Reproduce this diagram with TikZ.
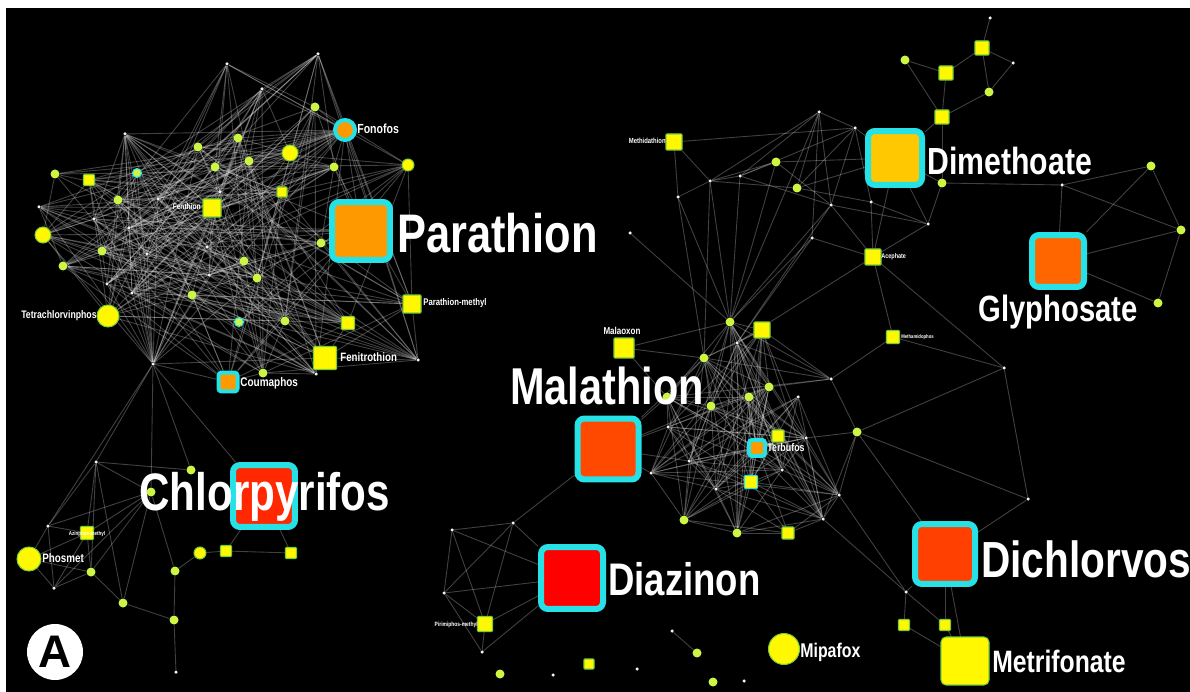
\documentclass[tikz,border=0pt]{standalone}
\usepackage{fontspec}
\newfontfamily\labfont{Liberation Sans}[FakeStretch=0.8]
\newfontfamily\panelfont{Liberation Sans}

\definecolor{hicyan}{RGB}{38,226,230}
\definecolor{dotgreen}{RGB}{205,245,70}
\definecolor{leafgreen}{RGB}{120,205,60}
\definecolor{nodeyellow}{RGB}{255,248,0}
\definecolor{paraorange}{RGB}{255,153,0}
\definecolor{dimegold}{RGB}{255,200,0}
\definecolor{glyporange}{RGB}{255,102,0}
\definecolor{malared}{RGB}{255,72,0}
\definecolor{chlored}{RGB}{255,40,0}
\definecolor{diazred}{RGB}{255,0,0}
\definecolor{dichred}{RGB}{255,64,0}

\pgfdeclarelayer{bg}
\pgfdeclarelayer{links}
\pgfsetlayers{bg,links,main}

\tikzset{
  link/.style={draw=white!85!gray, line width=0.5pt, opacity=0.28},
  wdot/.style={circle, fill=white!90!gray, inner sep=0pt, minimum size=0.07cm},
  gdot/.style={circle, fill=dotgreen, inner sep=0pt, minimum size=0.18cm},
  ysq/.style={rectangle, rounded corners=0.5pt, fill=nodeyellow, draw=leafgreen, line width=0.6pt, inner sep=0pt, minimum size=#1},
  ycirc/.style={circle, fill=nodeyellow, draw=leafgreen, line width=0.6pt, inner sep=0pt, minimum size=#1},
  hitbox/.style={rectangle, rounded corners=0.14cm, draw=hicyan, line width=0.12cm, fill=#1, inner sep=0pt},
  hitsmall/.style={rectangle, rounded corners=0.06cm, draw=hicyan, line width=0.08cm, fill=#1, inner sep=0pt},
  biglab/.style={text=white, inner sep=0pt, anchor=base west, font=\labfont\bfseries\fontsize{#1}{#1}\selectfont},
  smlab/.style={text=white, inner sep=0pt, font=\labfont\bfseries\fontsize{#1}{#1}\selectfont},
}

\begin{document}
\begin{tikzpicture}[x=0.02cm, y=-0.02cm]

  \useasboundingbox (0,0) rectangle (1190,692);

  % black panel with thin white margin
  \begin{pgfonlayer}{bg}
    \fill[white] (0,0) rectangle (1190,692);
    \fill[black] (6,8) rectangle (1190,692);
  \end{pgfonlayer}

  % small white nodes
  \foreach \n/\x/\y in {a1/318/54, a2/227/64, a3/262/89, a4/125/134, a5/39/207,
      a6/158/199, a7/220/192, a8/94/219, a9/129/228, a10/147/254, a11/207/247,
      a12/107/284, a13/132/293, a14/209/275, a15/153/364, a16/316/374, a17/418/360,
      e1/96/462, e4/48/526, e6/54/588, e13/176/672,
      r1/990/18, r4/1013/63, r8/819/112, r9/855/128, r11/740/176, r12/710/181,
      r15/678/197, r16/831/205, r17/871/202, r18/928/224, r19/630/233, r20/812/238,
      g1/1062/185, r21/1004/368, r22/1028/499, r23/906/592,
      c3/737/343, c9/798/397, c10/831/379, c11/668/427, c13/806/438, c14/689/461,
      c15/651/473, c16/782/470, c18/716/489, c19/839/495, c20/823/519,
      d1/513/523, d2/452/530, d3/444/593, d4/482/652,
      s1/553/675, s2/637/669, s3/672/631, s4/744/681}
    \node[wdot] (\n) at (\x,\y) {};

  % small green nodes
  \foreach \n/\x/\y in {b1/315/107, b2/238/138, b3/198/147, b4/249/161, b5/215/167,
      b6/334/167, b7/55/174, b9/118/200, b10/321/243, b11/102/251, b12/63/266,
      b13/244/261, b14/257/278, b15/192/295, b17/285/321, b18/263/373,
      e2/191/470, e3/151/492, e5/91/572, e7/123/603, e8/175/571, e12/174/620,
      r3/905/60, r6/989/92, r10/776/162, r13/797/188, r14/942/183,
      g2/1151/166, g3/1181/230, g4/1158/303,
      c1/730/322, c4/704/358, c5/667/397, c6/769/387, c7/749/397, c8/711/406,
      c21/684/520, c22/737/533, c24/857/432,
      s5/500/674, s6/697/653, s7/713/682}
    \node[gdot] (\n) at (\x,\y) {};
  \node[gdot, draw=hicyan, line width=0.6pt] (b8) at (137,173) {};
  \node[gdot, draw=hicyan, line width=0.6pt] (b16) at (239,322) {};

  % yellow squares
  \foreach \n/\x/\y/\s in {sq1/89/180/0.22, sq2/282/192/0.2, sq3/348/323/0.26,
      r2/982/48/0.28, r5/946/73/0.28, r7/942/117/0.28,
      c2/762/330/0.32, c12/778/436/0.24, c23/788/533/0.24,
      e10/226/551/0.22, e11/291/553/0.22, m1/904/625/0.22, m2/945/625/0.22, s8/589/664/0.2,
      fent/212/208/0.36, pmet/412/304/0.36, feni/325/358/0.46, malx/624/348/0.4,
      meth/674/142/0.32, acep/873/257/0.32, mtam/893/337/0.26, azin/87/533/0.26,
      piri/485/624/0.3}
    \node[ysq=\s cm] (\n) at (\x,\y) {};
  \node[ysq=0.26cm, draw=hicyan] (c17) at (751,482) {};

  % yellow circles
  \node[ycirc=0.32cm] (y1) at (290,153) {};
  \node[ycirc=0.32cm] (y2) at (43,235) {};
  \node[ycirc=0.24cm] (y3) at (408,165) {};
  \node[ycirc=0.24cm] (e9) at (200,553) {};
  \node[ycirc=0.44cm] (tetr) at (108,316) {};
  \node[ycirc=0.48cm] (phos) at (29,559) {};
  \node[ycirc=0.62cm] (mipa) at (784,649) {};

  % highlighted compounds
  \node[circle, draw=hicyan, line width=0.08cm, fill=paraorange, minimum size=0.4cm, inner sep=0pt] (fono) at (345,130) {};
  \node[hitsmall=paraorange, minimum size=0.38cm] (coum) at (228,382) {};
  \node[hitsmall=paraorange, minimum size=0.32cm] (terb) at (757,448) {};
  \node[hitbox=paraorange, minimum size=1.16cm] (para) at (361,231) {};
  \node[hitbox=dimegold, minimum size=1.08cm] (dime) at (895,158) {};
  \node[hitbox=glyporange, minimum size=1.04cm] (glyp) at (1058,261) {};
  \node[hitbox=malared, minimum size=1.22cm] (mala) at (608,449) {};
  \node[hitbox=chlored, minimum size=1.24cm] (chlo) at (264,496) {};
  \node[hitbox=diazred, minimum size=1.24cm] (diaz) at (572,578) {};
  \node[hitbox=dichred, minimum size=1.2cm] (dich) at (945,554) {};
  \node[ysq=0.96cm, rounded corners=0.1cm] (metr) at (965,661) {};

  % connections
  \begin{pgfonlayer}{links}
    % dense left cluster
    \def\leftlist{a1,a2,a3,a4,a5,a6,a7,a8,a9,a10,a11,a12,a13,a14,a15,a16,a17,
      b1,b2,b3,b4,b5,b6,b7,b8,b9,b10,b11,b12,b13,b14,b15,b16,b17,b18,
      y1,y2,y3,sq1,sq2,sq3,fono,fent,para,pmet,tetr,feni,coum}
    \foreach \a [count=\i] in \leftlist {
      \foreach \b [count=\j] in \leftlist {
        \ifnum\j>\i
          \pgfmathtruncatemacro\keep{mod(mod(\i*\j,100)*11+\i*37+\j*53,100)<30}
          \ifnum\keep=1 \draw[link] (\a) -- (\b); \fi
        \fi
      }
    }
    % dense central cluster
    \def\midlist{c1,c2,c3,c4,c5,c6,c7,c8,c9,c10,c11,c12,c13,c14,c15,c16,
      c17,c18,c19,c20,c21,c22,c23,terb}
    \foreach \a [count=\i] in \midlist {
      \foreach \b [count=\j] in \midlist {
        \ifnum\j>\i
          \pgfmathtruncatemacro\keep{mod(mod(\i*\j,100)*7+\i*41+\j*29,100)<62}
          \ifnum\keep=1 \draw[link] (\a) -- (\b); \fi
        \fi
      }
    }
    % sparse links
    \foreach \a/\b in {a15/e1, a15/e3, a15/e2, a15/chlo, a15/e4, e1/e2, e1/e4,
        e1/azin, e1/e5, e1/e7, e1/e3, e3/e4, e3/azin, e3/e6, e3/e7, e3/e8, e3/e5,
        e4/phos, e4/e6, e4/azin, azin/phos, azin/e6, azin/e5, phos/e5, phos/e6,
        e6/e5, e5/e7, e7/e12, e12/e8, e12/e13, e8/e9, e9/e10, e10/e11, e10/chlo,
        e11/chlo,
        d2/d1, d2/d3, d2/piri, d2/diaz, d1/diaz, d1/d3, d1/piri, d3/piri, d3/diaz,
        d3/d4, piri/d4, piri/diaz, d4/diaz, mala/d1, s3/s6,
        mala/c11, mala/c15, mala/c14, mala/c5, mala/c8, mala/c4,
        r1/r2, r2/r4, r4/r6, r2/r6, r2/r5, r3/r5, r3/r7, r5/r7, r6/r7, r7/dime,
        r7/r14, r8/r9, r8/r11, r8/r12, r8/r13, r8/r16, r8/r20, r9/dime, r9/r13,
        r9/r16, r9/r17, r9/r11, meth/r12, meth/r15, meth/r9, r12/r11, r11/r10,
        r10/dime, r13/dime, r15/r12, r12/r10, r11/r16, r10/r16, r13/r17, r17/r18,
        r16/r18, r14/r18, dime/r18, dime/r14, r14/g1, g1/g2, g1/g3, g1/glyp,
        g2/g3, g2/glyp, g3/glyp, g3/g4, glyp/g4, acep/r20, acep/r16, acep/r17,
        acep/r18, acep/dime, acep/mtam, acep/c3, acep/r21, c1/r19, c1/r15,
        c1/r12, c1/r11, c1/r10, c1/r20, c1/r16, c1/r8, c3/r20, c3/r16, c4/r12,
        c4/r15, malx/c1, malx/c4, malx/c5, mtam/c10, mtam/r21, r21/c24, r21/r22,
        c24/r22, c24/dich, c24/c10, c24/c19, c24/c20, c24/c13, r22/dich,
        c19/r23, c20/r23, r23/m1, r23/m2, m1/metr, m2/dich, m2/metr, dich/metr,
        dich/r23, r12/r13}
      \draw[link] (\a) -- (\b);
  \end{pgfonlayer}

  % large labels
  \node[biglab=30.9] (paralab) at (397,253) {Parathion};
  \node[biglab=21.5] (dimelab) at (927,175) {Dimethoate};
  \node[biglab=20.8] (glyplab) at (978,322) {Glyphosate};
  \node[biglab=29.5] (malalab) at (510,405) {Malathion};
  \node[biglab=30] (chlolab) at (139,510) {Chlorpyrifos};
  \node[biglab=26] (diazlab) at (608,595) {Diazinon};
  \node[biglab=28.9] (dichlab) at (981,577) {Dichlorvos};
  \node[biglab=17.6] (metrlab) at (992,672) {Metrifonate};
  \node[biglab=11.3] (mipalab) at (800,657) {Mipafox};

  % small labels
  \node[smlab=7.5, anchor=base west] (fonolab) at (357,134) {Fonofos};
  \node[smlab=7.1, anchor=base west] (coumlab) at (240,387) {Coumaphos};
  \node[smlab=6.9, anchor=base west] (fenilab) at (340,362) {Fenitrothion};
  \node[smlab=6.2, anchor=base east] (tetrlab) at (97,319) {Tetrachlorvinphos};
  \node[smlab=5.5, anchor=base west] (pmetlab) at (423,306) {Parathion-methyl};
  \node[smlab=5.7, anchor=base] (malxlab) at (622,335) {Malaoxon};
  \node[smlab=6.3, anchor=base west] (terblab) at (767,451) {Terbufos};
  \node[smlab=7, anchor=base west] (phoslab) at (42,562) {Phosmet};
  \node[smlab=4.7, anchor=base east] (fentlab) at (201,210) {Fenthion};
  \node[smlab=4.2, anchor=base east] (methlab) at (666,144) {Methidathion};
  \node[smlab=3.9, anchor=base west] (aceplab) at (881,259) {Acephate};
  \node[smlab=3, anchor=base west] (mtamlab) at (901,339) {Methamidophos};
  \node[smlab=3.2, anchor=base] (azinlab) at (87,535) {Azinphos-methyl};
  \node[smlab=3.5, anchor=base east] (pirilab) at (478,626) {Pirimiphos-methyl};

  % panel letter
  \node[circle, fill=white, minimum size=1.12cm, inner sep=0pt, text=black,
        font=\panelfont\bfseries\fontsize{26}{26}\selectfont] (panelA) at (55,652) {A};

\end{tikzpicture}
\end{document}
